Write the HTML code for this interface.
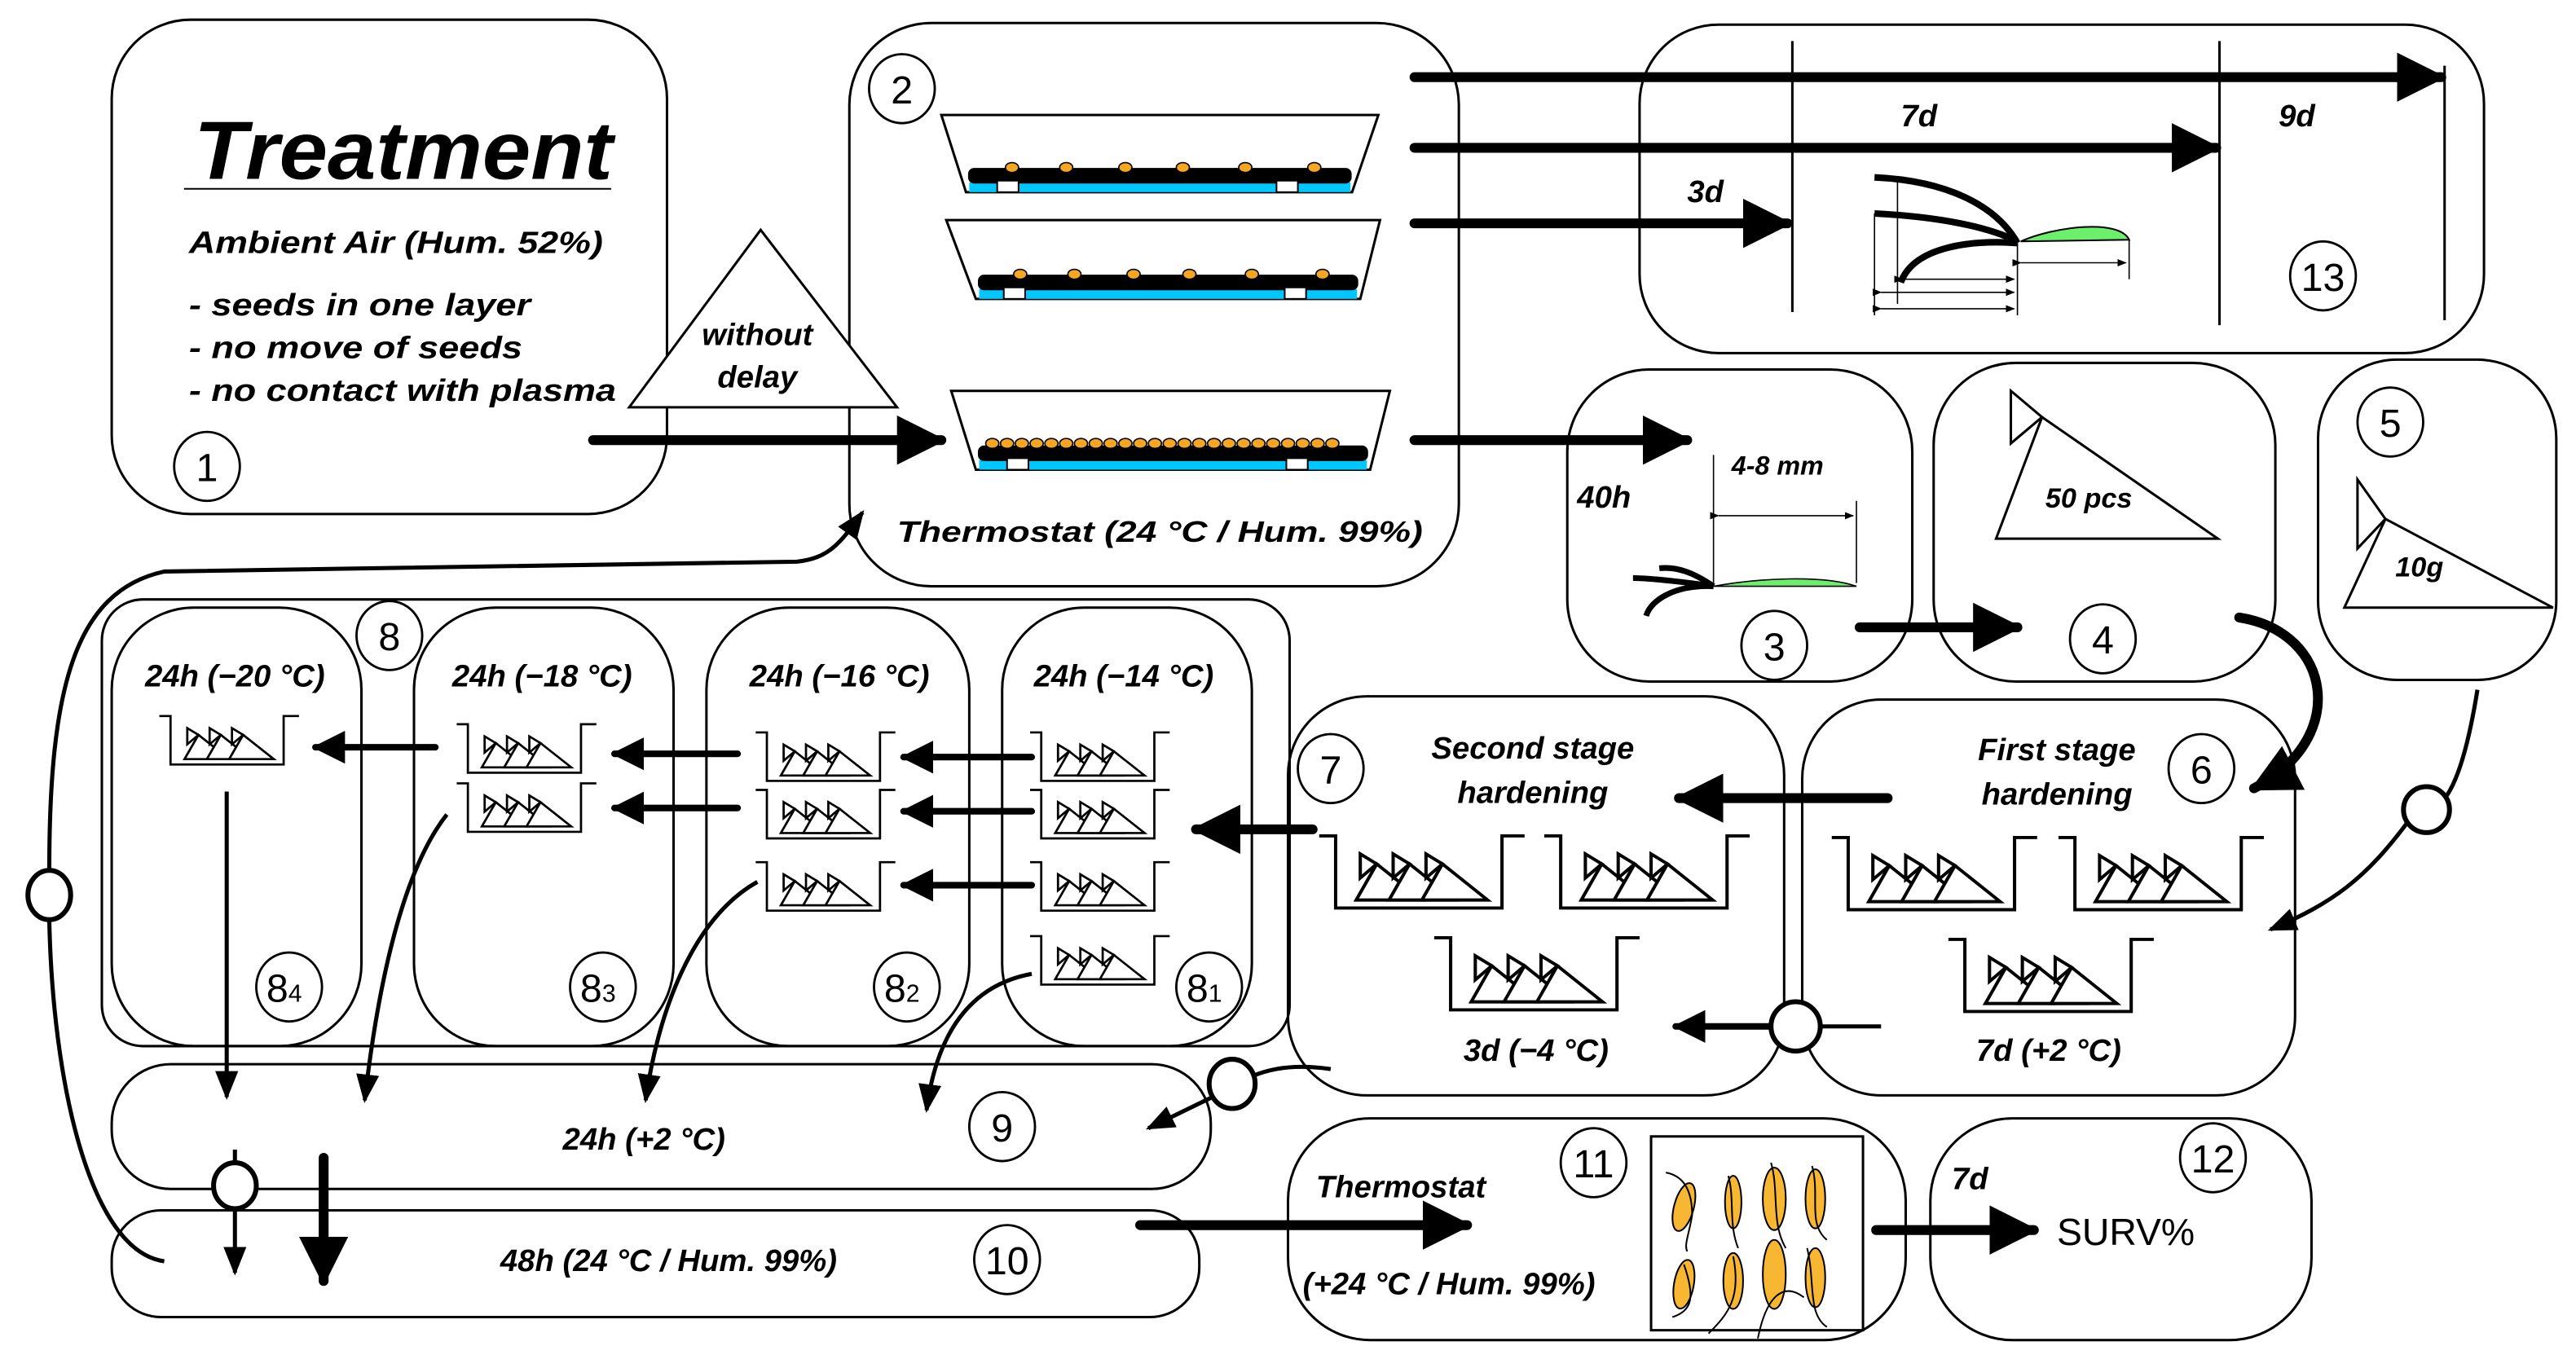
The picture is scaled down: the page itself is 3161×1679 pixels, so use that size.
<!DOCTYPE html>
<html><head><meta charset="utf-8"><style>
html,body{margin:0;padding:0;background:#fff;}
svg{display:block;}
text{font-family:"Liberation Sans Narrow","Liberation Sans",sans-serif;font-weight:bold;font-style:italic;fill:#000;}
.n{font-style:normal;font-weight:normal;}
</style></head><body>
<svg width="3161" height="1679" viewBox="0 0 1568 833" preserveAspectRatio="none" xmlns="http://www.w3.org/2000/svg">
<defs>
<marker id="ah" viewBox="0 0 10 10" refX="9" refY="5" markerWidth="5" markerHeight="5" orient="auto" markerUnits="strokeWidth"><path d="M0,0 L10,5 L0,10 Z"/></marker>
<marker id="ahs" viewBox="0 0 10 10" refX="9" refY="5" markerWidth="7" markerHeight="7" orient="auto" markerUnits="strokeWidth"><path d="M0,1 L10,5 L0,9 Z"/></marker>
<g id="bin" fill="#fff" stroke="#000" stroke-width="1.6">
<path d="M0,0 H8 V36 H89 V0 H100" fill="none"/>
<polygon points="28,14 18,32 50,32"/><polygon points="20,9 20,21 28,14"/>
<polygon points="44,14 34,32 66,32"/><polygon points="36,9 36,21 44,14"/>
<polygon points="60,14 50,32 82,32"/><polygon points="52,9 52,21 60,14"/>
</g>
</defs>
<g fill="none" stroke="#000" stroke-width="1.5">
<rect x="68" y="12" width="338" height="301" rx="48"/>
<rect x="517" y="14" width="371" height="343" rx="50"/>
<rect x="998" y="15" width="514" height="200" rx="48"/>
<rect x="954" y="225" width="210" height="190" rx="50"/>
<rect x="1177" y="221" width="208" height="194" rx="50"/>
<rect x="1411" y="219" width="145" height="195" rx="48"/>
<rect x="784" y="424" width="302" height="243" rx="48"/>
<rect x="1097" y="426" width="300" height="241" rx="48"/>
<rect x="62" y="365" width="723" height="272" rx="25"/>
<rect x="68" y="370" width="152" height="267" rx="50"/>
<rect x="252" y="370" width="158" height="267" rx="50"/>
<rect x="430" y="370" width="160" height="267" rx="50"/>
<rect x="610" y="370" width="152" height="267" rx="50"/>
<rect x="68" y="648" width="669" height="76" rx="36"/>
<rect x="68" y="737" width="662" height="65" rx="30"/>
<rect x="784" y="681" width="376" height="135" rx="50"/>
<rect x="1175" y="681" width="232" height="135" rx="50"/>
<rect x="1005" y="692" width="129" height="118"/>
<polygon points="463,140 383,248 546,248" fill="#fff"/>
</g>
<text x="118" y="109" font-size="50" textLength="255" lengthAdjust="spacingAndGlyphs">Treatment</text>
<line x1="112" y1="115" x2="372" y2="115" stroke="#000" stroke-width="1"/>
<text x="115" y="154" font-size="19" textLength="252" lengthAdjust="spacingAndGlyphs">Ambient Air (Hum. 52%)</text>
<text x="115" y="192" font-size="19" textLength="208" lengthAdjust="spacingAndGlyphs">- seeds in one layer</text>
<text x="115" y="218" font-size="19" textLength="203" lengthAdjust="spacingAndGlyphs">- no move of seeds</text>
<text x="115" y="244" font-size="19" textLength="260" lengthAdjust="spacingAndGlyphs">- no contact with plasma</text>
<text x="461" y="210" font-size="19" text-anchor="middle">without</text>
<text x="461" y="236" font-size="19" text-anchor="middle">delay</text>
<g fill="#fff" stroke="#000" stroke-width="1.4">
<ellipse cx="126" cy="284" rx="20" ry="21"/><ellipse cx="549" cy="54" rx="20" ry="21"/>
<ellipse cx="1414" cy="168" rx="20" ry="21"/><ellipse cx="1080" cy="393" rx="20" ry="21"/>
<ellipse cx="1280" cy="389" rx="20" ry="21"/><ellipse cx="1455" cy="257" rx="20" ry="21"/>
<ellipse cx="1340" cy="468" rx="20" ry="21"/><ellipse cx="810" cy="468" rx="20" ry="21"/>
<ellipse cx="237" cy="387" rx="20" ry="21"/>
<ellipse cx="176" cy="601" rx="20" ry="21"/><ellipse cx="367" cy="601" rx="20" ry="21"/>
<ellipse cx="552" cy="601" rx="20" ry="21"/><ellipse cx="736" cy="601" rx="20" ry="21"/>
<ellipse cx="610" cy="686" rx="20" ry="21"/><ellipse cx="613" cy="767" rx="20" ry="21"/>
<ellipse cx="970" cy="708" rx="20" ry="21"/><ellipse cx="1347" cy="705" rx="20" ry="21"/>
</g>
<g class="n" font-size="24" text-anchor="middle">
<text class="n" x="126" y="293">1</text><text class="n" x="549" y="63">2</text>
<text class="n" x="1414" y="177">13</text><text class="n" x="1080" y="402">3</text>
<text class="n" x="1280" y="398">4</text><text class="n" x="1455" y="266">5</text>
<text class="n" x="1340" y="477">6</text><text class="n" x="810" y="477">7</text>
<text class="n" x="237" y="396">8</text>
<text class="n" x="173" y="610">8<tspan font-size="15">4</tspan></text>
<text class="n" x="364" y="610">8<tspan font-size="15">3</tspan></text>
<text class="n" x="549" y="610">8<tspan font-size="15">2</tspan></text>
<text class="n" x="733" y="610">8<tspan font-size="15">1</tspan></text>
<text class="n" x="610" y="695">9</text><text class="n" x="613" y="776">10</text>
<text class="n" x="970" y="717">11</text><text class="n" x="1347" y="714">12</text>
</g>
<g stroke="#000" stroke-width="1.5">
<polygon points="573,70 839,70 823,117 588,117" fill="#fff"/>
<rect x="590" y="111" width="232" height="6" fill="#00c8ff" stroke="none"/>
<rect x="590" y="103" width="232" height="8" rx="3" fill="#000"/>
<rect x="607" y="110" width="13" height="7" fill="#fff" stroke-width="1"/><rect x="777" y="110" width="13" height="7" fill="#fff" stroke-width="1"/>
<polygon points="576,134 840,134 828,182 594,182" fill="#fff"/>
<rect x="596" y="176" width="230" height="6" fill="#00c8ff" stroke="none"/>
<rect x="596" y="168" width="230" height="8" rx="3" fill="#000"/>
<rect x="611" y="175" width="13" height="7" fill="#fff" stroke-width="1"/><rect x="782" y="175" width="13" height="7" fill="#fff" stroke-width="1"/>
<polygon points="579,238 846,238 834,286 594,286" fill="#fff"/>
<rect x="596" y="280" width="236" height="6" fill="#00c8ff" stroke="none"/>
<rect x="596" y="272" width="236" height="8" rx="3" fill="#000"/>
<rect x="613" y="279" width="13" height="7" fill="#fff" stroke-width="1"/><rect x="783" y="279" width="13" height="7" fill="#fff" stroke-width="1"/>
</g>
<g fill="#f5a623" stroke="#000" stroke-width="0.8">
<ellipse cx="616" cy="102" rx="4" ry="3"/><ellipse cx="649" cy="102" rx="4" ry="3"/><ellipse cx="685" cy="102" rx="4" ry="3"/><ellipse cx="720" cy="102" rx="4" ry="3"/><ellipse cx="758" cy="102" rx="4" ry="3"/><ellipse cx="800" cy="102" rx="4" ry="3"/>
<ellipse cx="621" cy="167" rx="4" ry="3"/><ellipse cx="654" cy="167" rx="4" ry="3"/><ellipse cx="690" cy="167" rx="4" ry="3"/><ellipse cx="724" cy="167" rx="4" ry="3"/><ellipse cx="762" cy="167" rx="4" ry="3"/><ellipse cx="805" cy="167" rx="4" ry="3"/>
<ellipse cx="604" cy="270" rx="4" ry="3"/><ellipse cx="613" cy="270" rx="4" ry="3"/><ellipse cx="622" cy="270" rx="4" ry="3"/><ellipse cx="631" cy="270" rx="4" ry="3"/><ellipse cx="640" cy="270" rx="4" ry="3"/><ellipse cx="649" cy="270" rx="4" ry="3"/><ellipse cx="658" cy="270" rx="4" ry="3"/><ellipse cx="667" cy="270" rx="4" ry="3"/><ellipse cx="676" cy="270" rx="4" ry="3"/><ellipse cx="685" cy="270" rx="4" ry="3"/><ellipse cx="694" cy="270" rx="4" ry="3"/><ellipse cx="703" cy="270" rx="4" ry="3"/><ellipse cx="712" cy="270" rx="4" ry="3"/><ellipse cx="721" cy="270" rx="4" ry="3"/><ellipse cx="730" cy="270" rx="4" ry="3"/><ellipse cx="739" cy="270" rx="4" ry="3"/><ellipse cx="748" cy="270" rx="4" ry="3"/><ellipse cx="757" cy="270" rx="4" ry="3"/><ellipse cx="766" cy="270" rx="4" ry="3"/><ellipse cx="775" cy="270" rx="4" ry="3"/><ellipse cx="784" cy="270" rx="4" ry="3"/><ellipse cx="793" cy="270" rx="4" ry="3"/><ellipse cx="802" cy="270" rx="4" ry="3"/><ellipse cx="811" cy="270" rx="4" ry="3"/>
</g>
<text x="546" y="330" font-size="18" textLength="320" lengthAdjust="spacingAndGlyphs">Thermostat (24 °C / Hum. 99%)</text>
<g stroke="#000" stroke-width="1.5" fill="none">
<line x1="1091" y1="25" x2="1091" y2="190"/><line x1="1351" y1="25" x2="1351" y2="198"/><line x1="1488" y1="40" x2="1488" y2="195"/>
<path d="M1141,108 C1185,110 1215,125 1228,148" stroke-width="4"/>
<path d="M1141,130 C1180,132 1210,138 1228,147" stroke-width="4"/>
<path d="M1228,148 C1200,146 1165,150 1157,172" stroke-width="4"/>
<path d="M1230,147 C1250,138 1290,133 1296,146 Z" fill="#6cf06c" stroke-width="1"/>
<g stroke-width="0.8"><line x1="1141" y1="130" x2="1141" y2="192"/><line x1="1155" y1="108" x2="1155" y2="185"/><line x1="1228" y1="148" x2="1228" y2="192"/><line x1="1296" y1="146" x2="1296" y2="170"/>
<line x1="1145" y1="188" x2="1226" y2="188" marker-start="url(#ahs)" marker-end="url(#ahs)"/>
<line x1="1145" y1="178" x2="1226" y2="178" marker-start="url(#ahs)" marker-end="url(#ahs)"/>
<line x1="1158" y1="170" x2="1226" y2="170" marker-start="url(#ahs)" marker-end="url(#ahs)"/>
<line x1="1230" y1="160" x2="1294" y2="160" marker-start="url(#ahs)" marker-end="url(#ahs)"/></g>
</g>
<text x="1027" y="123" font-size="19">3d</text><text x="1157" y="77" font-size="19">7d</text><text x="1387" y="77" font-size="19">9d</text>
<g stroke="#000" fill="none">
<line x1="1043" y1="277" x2="1043" y2="357" stroke-width="0.8"/>
<line x1="1046" y1="314" x2="1128" y2="314" stroke-width="0.8" marker-start="url(#ahs)" marker-end="url(#ahs)"/>
<line x1="1130" y1="305" x2="1130" y2="355" stroke-width="0.8"/>
<path d="M1043,357 C1070,352 1110,350 1130,357 Z" fill="#6cf06c" stroke-width="0.8"/>
<path d="M1043,357 C1030,348 1020,345 1010,346" stroke-width="3.5"/>
<path d="M1043,357 C1030,355 1005,352 994,352" stroke-width="3.5"/>
<path d="M1043,357 C1020,356 1005,365 1002,375" stroke-width="3.5"/>
</g>
<text x="960" y="309" font-size="19">40h</text>
<text x="1054" y="289" font-size="16">4-8 mm</text>
<g fill="#fff" stroke="#000" stroke-width="1.5">
<polygon points="1243,254 1215,328 1350,328"/><polygon points="1224,238 1224,270 1243,254"/>
<polygon points="1452,316 1427,370 1554,370"/><polygon points="1435,292 1435,334 1452,316"/>
</g>
<text x="1245" y="309" font-size="17">50 pcs</text>
<text x="1458" y="351" font-size="17">10g</text>
<use href="#bin" transform="translate(97,436) scale(0.85,0.82)"/>
<use href="#bin" transform="translate(278,441) scale(0.85,0.82)"/>
<use href="#bin" transform="translate(278,477) scale(0.85,0.82)"/>
<use href="#bin" transform="translate(460,446) scale(0.85,0.82)"/>
<use href="#bin" transform="translate(460,481) scale(0.85,0.82)"/>
<use href="#bin" transform="translate(460,525) scale(0.85,0.82)"/>
<use href="#bin" transform="translate(627,446) scale(0.85,0.82)"/>
<use href="#bin" transform="translate(627,481) scale(0.85,0.82)"/>
<use href="#bin" transform="translate(627,525) scale(0.85,0.82)"/>
<use href="#bin" transform="translate(627,570) scale(0.85,0.82)"/>
<use href="#bin" transform="translate(803,509) scale(1.25,1.22)"/>
<use href="#bin" transform="translate(940,509) scale(1.25,1.22)"/>
<use href="#bin" transform="translate(873,571) scale(1.25,1.22)"/>
<use href="#bin" transform="translate(1115,510) scale(1.25,1.22)"/>
<use href="#bin" transform="translate(1253,510) scale(1.25,1.22)"/>
<use href="#bin" transform="translate(1186,572) scale(1.25,1.22)"/>
<text x="143" y="418" font-size="19" text-anchor="middle">24h (−20 °C)</text>
<text x="330" y="418" font-size="19" text-anchor="middle">24h (−18 °C)</text>
<text x="511" y="418" font-size="19" text-anchor="middle">24h (−16 °C)</text>
<text x="684" y="418" font-size="19" text-anchor="middle">24h (−14 °C)</text>
<text x="933" y="462" font-size="19" text-anchor="middle">Second stage</text>
<text x="933" y="489" font-size="19" text-anchor="middle">hardening</text>
<text x="1300" y="463" font-size="19" text-anchor="end">First stage</text>
<text x="1298" y="490" font-size="19" text-anchor="end">hardening</text>
<text x="935" y="646" font-size="19" text-anchor="middle">3d (−4 °C)</text>
<text x="1247" y="646" font-size="19" text-anchor="middle">7d (+2 °C)</text>
<text x="392" y="700" font-size="19" text-anchor="middle">24h (+2 °C)</text>
<text x="407" y="774" font-size="19" text-anchor="middle">48h (24 °C / Hum. 99%)</text>
<text x="801" y="729" font-size="19">Thermostat</text>
<text x="793" y="788" font-size="19">(+24 °C / Hum. 99%)</text>
<text x="1188" y="724" font-size="19">7d</text>
<text class="n" x="1252" y="758" font-size="23">SURV%</text>
<g fill="#f7b733" stroke="#000" stroke-width="1">
<ellipse cx="1025" cy="735" rx="6" ry="15" transform="rotate(15 1025 735)"/>
<ellipse cx="1055" cy="732" rx="5" ry="16"/>
<ellipse cx="1080" cy="730" rx="7" ry="19"/>
<ellipse cx="1105" cy="730" rx="6" ry="18"/>
<ellipse cx="1025" cy="782" rx="6" ry="15" transform="rotate(10 1025 782)"/>
<ellipse cx="1055" cy="780" rx="6" ry="17"/>
<ellipse cx="1080" cy="776" rx="7" ry="21"/>
<ellipse cx="1105" cy="778" rx="6" ry="18"/>
</g>
<g fill="none" stroke="#000" stroke-width="1">
<path d="M1014,714 C1025,716 1030,725 1030,740 C1028,752 1025,758 1027,762"/>
<path d="M1052,716 C1056,730 1052,745 1058,760"/><path d="M1078,708 C1083,725 1078,745 1087,760"/><path d="M1103,710 C1108,728 1100,745 1112,755"/>
<path d="M1018,802 C1030,798 1032,790 1025,770"/><path d="M1040,812 C1052,800 1060,790 1055,765"/><path d="M1070,815 C1075,790 1085,780 1098,790"/><path d="M1100,760 C1105,780 1100,800 1112,808"/>
</g>
<g stroke="#000" stroke-width="6" fill="none" stroke-linecap="round">
<line x1="361" y1="268" x2="573" y2="268" marker-end="url(#ah)"/>
<line x1="861" y1="47" x2="1486" y2="47" marker-end="url(#ah)"/>
<line x1="861" y1="90" x2="1349" y2="90" marker-end="url(#ah)"/>
<line x1="861" y1="136" x2="1088" y2="136" marker-end="url(#ah)"/>
<line x1="861" y1="268" x2="1027" y2="268" marker-end="url(#ah)"/>
<line x1="1132" y1="382" x2="1228" y2="382" marker-end="url(#ah)"/>
<line x1="1149" y1="486" x2="1022" y2="486" marker-end="url(#ah)"/>
<line x1="799" y1="505" x2="728" y2="505" marker-end="url(#ah)"/>
<line x1="694" y1="746" x2="893" y2="746" marker-end="url(#ah)"/>
<line x1="1142" y1="749" x2="1238" y2="749" marker-end="url(#ah)"/>
<path d="M1363,376 C1420,385 1430,450 1372,480" marker-end="url(#ah)"/>
<line x1="197" y1="705" x2="197" y2="780" marker-end="url(#ah)"/>
</g>
<g stroke="#000" stroke-width="4" fill="none" stroke-linecap="round">
<line x1="265" y1="455" x2="192" y2="455" marker-end="url(#ah)"/>
<line x1="449" y1="459" x2="374" y2="459" marker-end="url(#ah)"/>
<line x1="449" y1="492" x2="374" y2="492" marker-end="url(#ah)"/>
<line x1="628" y1="461" x2="550" y2="461" marker-end="url(#ah)"/>
<line x1="628" y1="494" x2="550" y2="494" marker-end="url(#ah)"/>
<line x1="628" y1="539" x2="550" y2="539" marker-end="url(#ah)"/>
<line x1="1078" y1="625" x2="1020" y2="625" marker-end="url(#ah)"/>
</g>
<g stroke="#000" stroke-width="2.5" fill="none">
<line x1="138" y1="482" x2="138" y2="668" marker-end="url(#ahs)"/>
<path d="M272,496 C245,530 230,600 222,670" marker-end="url(#ahs)"/>
<path d="M461,537 C420,560 400,620 393,670" marker-end="url(#ahs)"/>
<path d="M628,593 C590,600 570,630 564,676" marker-end="url(#ahs)"/>
<path d="M1508,420 C1500,470 1490,490 1480,492"/>
<path d="M1466,500 C1440,535 1420,550 1382,566" marker-end="url(#ahs)"/>
<path d="M810,651 C790,648 775,650 763,655"/>
<line x1="738" y1="668" x2="699" y2="687" marker-end="url(#ahs)"/>
<line x1="1108" y1="625" x2="1145" y2="625"/>
<line x1="143" y1="700" x2="143" y2="710"/>
<line x1="143" y1="734" x2="143" y2="775" marker-end="url(#ahs)"/>
<path d="M100,768 C55,762 32,660 30,560"/>
<path d="M30,530 C30,420 45,360 100,348 L485,342 C505,340 512,330 525,312" marker-end="url(#ahs)"/>
</g>
<g fill="#fff" stroke="#000" stroke-width="3">
<ellipse cx="1093" cy="625" rx="15" ry="15"/>
<ellipse cx="1477" cy="493" rx="14" ry="14"/>
<ellipse cx="750" cy="660" rx="14" ry="15"/>
<ellipse cx="143" cy="722" rx="13" ry="14"/>
<ellipse cx="30" cy="545" rx="13" ry="15"/>
</g>
</svg>
</body></html>
